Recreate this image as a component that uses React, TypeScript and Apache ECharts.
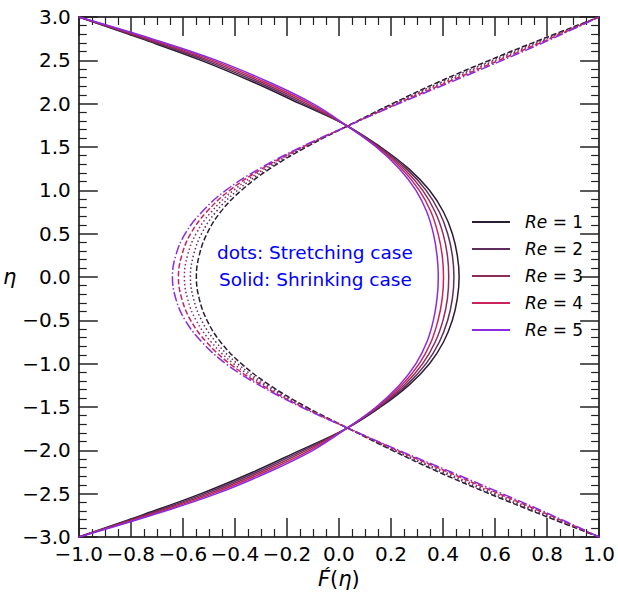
import React, { useEffect, useRef } from "react";
import * as echarts from "echarts";

// eta grid (upper half); the profiles are symmetric about eta = 0
const etaGrid = [0, 0.25, 0.5, 0.75, 1, 1.25, 1.5, 1.75, 2, 2.25, 2.5, 2.75, 3];
const reLabels = ["1", "2", "3", "4", "5"];

// Solid: shrinking case, F'(eta) for Re = 1..5
const shrinkRe1 = [0.462, 0.455, 0.436, 0.402, 0.348, 0.268, 0.16, 0.028, -0.15, -0.33, -0.53, -0.76, -1.0];
const shrinkRe2 = [0.442, 0.436, 0.418, 0.386, 0.335, 0.259, 0.155, 0.028, -0.138, -0.315, -0.515, -0.75, -1.0];
const shrinkRe3 = [0.422, 0.417, 0.4, 0.37, 0.322, 0.25, 0.151, 0.028, -0.125, -0.3, -0.5, -0.74, -1.0];
const shrinkRe4 = [0.402, 0.397, 0.381, 0.354, 0.309, 0.241, 0.147, 0.028, -0.112, -0.285, -0.485, -0.73, -1.0];
const shrinkRe5 = [0.382, 0.377, 0.363, 0.338, 0.296, 0.232, 0.143, 0.028, -0.1, -0.27, -0.47, -0.72, -1.0];

// Dotted/dashed: stretching case, F'(eta) for Re = 1..5
const stretchRe1 = [-0.548, -0.537, -0.507, -0.455, -0.375, -0.265, -0.125, 0.038, 0.205, 0.383, 0.578, 0.785, 1.0];
const stretchRe2 = [-0.571, -0.559, -0.528, -0.473, -0.39, -0.275, -0.13, 0.038, 0.211, 0.395, 0.59, 0.794, 1.0];
const stretchRe3 = [-0.594, -0.582, -0.549, -0.491, -0.405, -0.285, -0.135, 0.039, 0.217, 0.407, 0.603, 0.803, 1.0];
const stretchRe4 = [-0.617, -0.604, -0.57, -0.509, -0.42, -0.295, -0.14, 0.039, 0.224, 0.419, 0.615, 0.811, 1.0];
const stretchRe5 = [-0.64, -0.627, -0.591, -0.527, -0.435, -0.305, -0.145, 0.039, 0.23, 0.431, 0.628, 0.82, 1.0];

const xTicks = { min: -1, max: 1, interval: 0.2 };
const yTicks = { min: -3, max: 3, interval: 0.5 };

const colors = ["#2b1d33", "#5e2d5e", "#8c2d5c", "#c8235a", "#8a2be2"];
const dashTypes: any[] = [
  [5.5, 2.4],
  [1.5, 2.5],
  [1.5, 2.5],
  [5.5, 2.4],
  [9.6, 2.4, 1.5, 2.4],
];

const shrinkAll = [shrinkRe1, shrinkRe2, shrinkRe3, shrinkRe4, shrinkRe5];
const stretchAll = [stretchRe1, stretchRe2, stretchRe3, stretchRe4, stretchRe5];

function profile(vals: number[]): number[][] {
  const pts: number[][] = [];
  for (let i = etaGrid.length - 1; i >= 1; i--) pts.push([vals[i], -etaGrid[i]]);
  for (let i = 0; i < etaGrid.length; i++) pts.push([vals[i], etaGrid[i]]);
  return pts;
}

const fmt = (v: number) => (v < 0 ? "\u2212" : "") + Math.abs(v).toFixed(1);
const FONT = "DejaVu Sans";

export default function App() {
  const ref = useRef<HTMLDivElement>(null);
  useEffect(() => {
    if (!ref.current) return;
    const chart = echarts.init(ref.current, null, { renderer: "svg" });
    const axisCommon = {
      type: "value" as const,
      axisLine: { show: true, onZero: false, lineStyle: { color: "#000", width: 1.5 } },
      axisTick: { show: true, inside: true, length: 19, lineStyle: { color: "#222", width: 1.5 } },
      minorTick: { show: true, length: 8, lineStyle: { color: "#222", width: 1.2 } },
      splitLine: { show: false },
    };
    const series: any[] = [];
    reLabels.forEach((r, i) => {
      series.push({
        name: `Re = ${r}`,
        type: "line",
        data: profile(shrinkAll[i]),
        showSymbol: false,
        smooth: 0.4,
        lineStyle: { color: colors[i], width: 1.5 },
        itemStyle: { color: colors[i] },
        z: 3,
      });
    });
    reLabels.forEach((r, i) => {
      series.push({
        name: `Re = ${r} stretching`,
        type: "line",
        data: profile(stretchAll[i]),
        showSymbol: false,
        smooth: 0.4,
        lineStyle: { color: colors[i], width: 1.5, type: dashTypes[i] },
        itemStyle: { color: colors[i] },
        z: 2,
      });
    });
    chart.setOption({
      animation: false,
      grid: { left: 78, right: 18, top: 17, bottom: 67, containLabel: false },
      xAxis: [
        {
          ...axisCommon,
          position: "bottom",
          min: xTicks.min,
          max: xTicks.max,
          interval: xTicks.interval,
          minorTick: { ...axisCommon.minorTick, splitNumber: 4 },
          axisLabel: {
            show: true,
            formatter: fmt,
            color: "#000",
            fontSize: 20,
            fontFamily: FONT,
            margin: 7,
            showMinLabel: true,
            showMaxLabel: true,
          },
          name: "{i|F\u0301}{n|(}{i|\u03b7}{n|)}",
          nameLocation: "middle",
          nameGap: 31,
          nameTextStyle: {
            rich: {
              i: { fontSize: 21, fontStyle: "italic", fontFamily: FONT, color: "#000" },
              n: { fontSize: 21, fontFamily: FONT, color: "#000" },
            },
          },
        },
        {
          ...axisCommon,
          position: "top",
          min: xTicks.min,
          max: xTicks.max,
          interval: xTicks.interval,
          minorTick: { ...axisCommon.minorTick, splitNumber: 4 },
          axisLabel: { show: false },
        },
      ],
      yAxis: [
        {
          ...axisCommon,
          position: "left",
          min: yTicks.min,
          max: yTicks.max,
          interval: yTicks.interval,
          minorTick: { ...axisCommon.minorTick, splitNumber: 5 },
          axisLabel: {
            show: true,
            formatter: fmt,
            color: "#000",
            fontSize: 20,
            fontFamily: FONT,
            margin: 8,
            showMinLabel: true,
            showMaxLabel: true,
          },
          name: "\u03b7",
          nameLocation: "middle",
          nameRotate: 0,
          nameGap: 52,
          nameTextStyle: { fontSize: 21, fontStyle: "italic", fontFamily: FONT, color: "#000" },
        },
        {
          ...axisCommon,
          position: "right",
          min: yTicks.min,
          max: yTicks.max,
          interval: yTicks.interval,
          minorTick: { ...axisCommon.minorTick, splitNumber: 5 },
          axisLabel: { show: false },
        },
      ],
      legend: {
        show: true,
        orient: "vertical",
        left: 472,
        top: 212,
        padding: 0,
        icon: "rect",
        itemWidth: 38,
        itemHeight: 2,
        itemGap: 7,
        data: reLabels.map((r) => `Re = ${r}`),
        formatter: (name: string) => `{i|Re} = ${name.split("= ")[1]}`,
        textStyle: {
          fontSize: 17,
          fontFamily: FONT,
          color: "#000",
          lineHeight: 20,
          padding: [0, 0, 0, 10],
          rich: { i: { fontSize: 17, fontStyle: "italic", fontFamily: FONT, color: "#000" } },
        },
      },
      graphic: [
        {
          type: "text",
          left: 217,
          top: 243,
          style: { text: "dots: Stretching case", fill: "#0000ff", font: `18.5px "${FONT}"` },
          z: 10,
        },
        {
          type: "text",
          left: 219,
          top: 270,
          style: { text: "Solid: Shrinking case", fill: "#0000ff", font: `18.5px "${FONT}"` },
          z: 10,
        },
      ],
      series,
    });
    return () => chart.dispose();
  }, []);
  return (
    <div
      ref={ref}
      style={{ position: "fixed", left: 0, top: 0, width: 618, height: 604, background: "#fff" }}
    />
  );
}
